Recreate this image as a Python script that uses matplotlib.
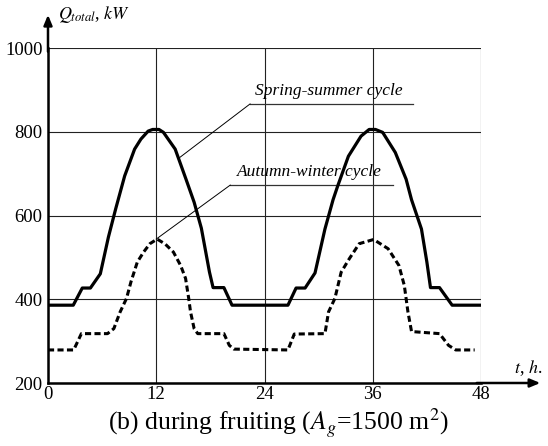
import matplotlib
matplotlib.use("Agg")
import matplotlib.pyplot as plt
import numpy as np

plt.rcParams['font.family'] = ['Liberation Serif', 'DejaVu Serif']
plt.rcParams['mathtext.fontset'] = 'stix'

# spring-summer cycle, total heat demand (kW) over two days
t_spring = [0, 2.8, 3.8, 4.7, 5.8, 6.7, 7.5, 8.5, 9.6, 10.3, 11.1, 11.6, 12.3, 12.8,
            14.1, 15.3, 16.2, 17.0, 17.9, 18.3, 19.5, 20.4,
            26.6, 27.5, 28.5, 29.6, 30.7, 31.6, 32.1, 33.3, 34.7, 35.6, 36.3, 37.1,
            38.5, 39.7, 40.3, 41.4, 42.0, 42.4, 43.4, 44.8, 48]
q_spring = [386, 386, 427, 427, 461, 549, 616, 695, 759, 783, 802, 806, 806, 799,
            759, 687, 632, 570, 465, 428, 428, 386,
            386, 427, 427, 463, 568, 638, 670, 742, 790, 806, 806, 799,
            751, 687, 638, 568, 489, 428, 428, 386, 386]

# autumn-winter cycle
t_autumn = [0, 2.85, 3.7, 6.6, 7.3, 8.0, 8.7, 9.2, 9.9, 10.6, 11.3, 12.1, 13.0, 13.9,
            14.7, 15.25, 15.6, 15.8, 16.2, 16.6, 19.5, 20.1, 20.6,
            26.6, 27.3, 30.7, 31.1, 31.8, 32.5, 33.4, 34.5, 36.1, 37.7, 38.9, 39.5,
            39.9, 40.3, 43.4, 44.4, 45.2, 47.3]
q_autumn = [279, 279, 318, 318, 330, 370, 402, 442, 489, 513, 533, 544, 532, 513,
            481, 450, 402, 370, 330, 318, 318, 290, 281,
            279, 317, 318, 370, 402, 465, 497, 533, 543, 521, 481, 433,
            370, 323, 318, 290, 279, 279]

x_ticks = [0, 12, 24, 36, 48]
y_ticks = [200, 400, 600, 800, 1000]

fig = plt.figure(figsize=(5.48, 4.46), dpi=100)
ax = fig.add_axes([48 / 548, 63 / 446, 433 / 548, 334.7 / 446])

ax.plot(t_spring, q_spring, color='black', lw=2.3, solid_joinstyle='round', zorder=3)
ax.plot(t_autumn, q_autumn, color='black', lw=2.2, linestyle=(0, (2.0, 1.1)), zorder=3)

ax.set_xlim(0, 48)
ax.set_ylim(200, 1000)
ax.set_xticks(x_ticks)
ax.set_yticks(y_ticks)
ax.grid(True, color='#222222', lw=0.8)
ax.tick_params(length=0, labelsize=13.5, pad=4)
ax.tick_params(axis='x', pad=2)

for side in ['top', 'right']:
    ax.spines[side].set_visible(False)
for side in ['left', 'bottom']:
    ax.spines[side].set_linewidth(1.8)

# axis arrows
ax.annotate('', xy=(0, 1.1), xytext=(0, 0.99), xycoords='axes fraction',
            arrowprops=dict(arrowstyle='-|>,head_length=0.6,head_width=0.25',
                            lw=1.8, color='black', shrinkA=0, shrinkB=0))
ax.annotate('', xy=(1.137, 0), xytext=(0.99, 0), xycoords='axes fraction',
            arrowprops=dict(arrowstyle='-|>,head_length=0.6,head_width=0.25',
                            lw=1.8, color='black', shrinkA=0, shrinkB=0))

ax.text(0.022, 1.1, r'$Q_{total}$, $kW$', transform=ax.transAxes,
        fontsize=13, va='center', ha='left')
ax.text(1.077, 0.045, r'$t$, $h$.', transform=ax.transAxes,
        fontsize=13, va='center', ha='left')

# curve labels with leader lines
ax.plot([22.4, 40.5], [867, 867], color='#333333', lw=0.9, clip_on=False)
ax.plot([22.4, 14.6], [867, 739], color='black', lw=0.7)
ax.text(23.0, 880, 'Spring-summer cycle', style='italic', fontsize=12.5,
        ha='left', va='bottom')

ax.plot([20.2, 38.2], [673, 673], color='#333333', lw=0.9)
ax.plot([20.2, 12.0], [673, 544], color='black', lw=0.7)
ax.text(21.0, 686, 'Autumn-winter cycle', style='italic', fontsize=12.5,
        ha='left', va='bottom')

fig.text(278 / 548, 1 - 423 / 446, r'(b) during fruiting ($A_g$=1500 m$^2$)',
         fontsize=18.5, ha='center', va='center')

plt.savefig('out.png', dpi=100)
